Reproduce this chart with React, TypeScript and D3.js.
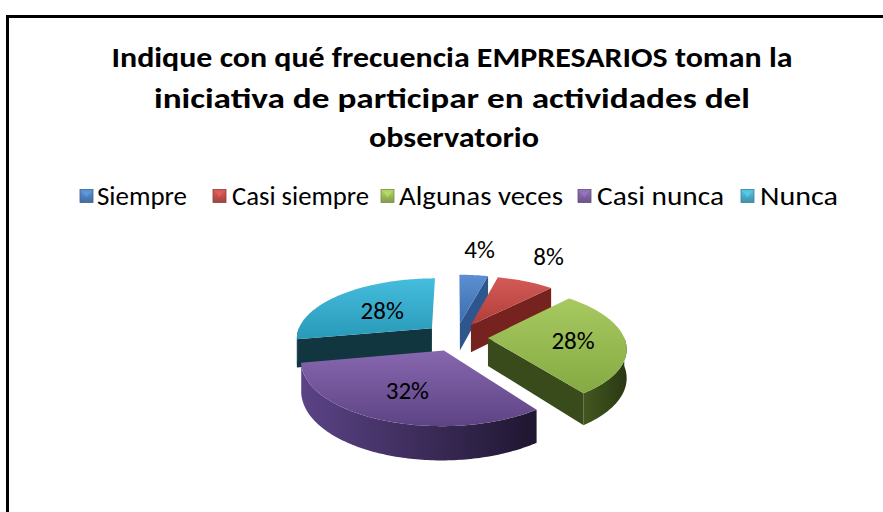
import React from "react";
import * as d3 from "d3";

const categories = ["Siempre", "Casi siempre", "Algunas veces", "Casi nunca", "Nunca"];
const values = [4, 8, 28, 32, 28];
const valueLabels = ["4%", "8%", "28%", "32%", "28%"];
const titleLines = [
  "Indique con qué frecuencia EMPRESARIOS toman la",
  "iniciativa de participar en actividades del",
  "observatorio",
];

const topLight = ["#5B8FD1", "#D45B57", "#A6C960", "#8767AF", "#45BDDD"];
const topDark = ["#3D6EAE", "#B03D3A", "#86AA43", "#5D4384", "#2999B8"];
const wallLight = ["#34598F", "#852B29", "#43581F", "#5B4386", "#1B5162"];
const wallDark = ["#223B60", "#5A1A19", "#2B3813", "#1F1630", "#0E3340"];
const cutColor = ["#2D568F", "#76221F", "#394B1A", "#3A2B57", "#11363F"];
const legendColor = ["#4F81BD", "#C0504D", "#9BBB59", "#8064A2", "#4BACC6"];
const labelRadius = [1.5, 1.5, 0.62, 0.62, 0.52];

const W = 883;
const H = 512;
const FONT = "Carlito, Calibri, Lato, 'Open Sans', sans-serif";

// 3D projection parameters
const cx = 456;
const cy = 337;
const SX = 136; // horizontal radius at depth 0
const SZ = 59.8; // vertical scale for depth
const SH = 28; // thickness
const K = 0.15; // perspective strength
const EXPLODE = 0.235;

function project(X: number, Y: number, Z: number): [number, number] {
  const f = 1 / (1 + K * Z);
  return [cx + SX * X * f, cy + (-SZ * Z + SH * Y) * f];
}

export default function App() {
  const pie = d3
    .pie<number>()
    .sort(null)
    .value((d) => d)
    .startAngle(0)
    .endAngle(Math.PI * 2);
  const arcs = pie(values);

  const slices = arcs.map((a, i) => {
    const m = (a.startAngle + a.endAngle) / 2;
    const ox = EXPLODE * Math.sin(m);
    const oz = EXPLODE * Math.cos(m);
    const pt = (t: number, r: number, y: number) =>
      project(ox + r * Math.sin(t), y, oz + r * Math.cos(t));
    const sampleArc = (t0: number, t1: number, y: number) => {
      const n = Math.max(2, Math.ceil(((t1 - t0) * 180) / Math.PI));
      const out: [number, number][] = [];
      for (let j = 0; j <= n; j++) out.push(pt(t0 + ((t1 - t0) * j) / n, 1, y));
      return out;
    };
    const line = d3.line();
    const topPts = [pt(0, 0, 0), ...sampleArc(a.startAngle, a.endAngle, 0)];
    const top = line(topPts) + "Z";
    let wall: string | null = null;
    const w0 = Math.max(a.startAngle, Math.PI / 2);
    const w1 = Math.min(a.endAngle, (Math.PI * 3) / 2);
    if (w1 > w0) {
      const up = sampleArc(w0, w1, 0);
      const down = sampleArc(w0, w1, 1).reverse();
      wall = line([...up, ...down]) + "Z";
    }
    const cuts: string[] = [];
    const cutFace = (t: number) =>
      line([pt(t, 0, 0), pt(t, 1, 0), pt(t, 1, 1), pt(t, 0, 1)]) + "Z";
    if (Math.sin(a.startAngle) < -1e-6) cuts.push(cutFace(a.startAngle));
    if (Math.sin(a.endAngle) > 1e-6) cuts.push(cutFace(a.endAngle));
    const small = labelRadius[i] > 1;
    const lp = pt(m, labelRadius[i], 0);
    const label: [number, number] = small ? [lp[0], lp[1] - 6] : lp;
    return { i, oz, top, wall, cuts, label };
  });

  const order = [...slices].sort((p, q) => q.oz - p.oz);

  const legendItems = [
    { mx: 80, tx: 97, w: 90 },
    { mx: 213, tx: 232, w: 137 },
    { mx: 381, tx: 399, w: 164 },
    { mx: 578, tx: 597, w: 127 },
    { mx: 741, tx: 760, w: 78 },
  ];

  return (
    <svg
      width={W}
      height={H}
      style={{ position: "absolute", left: 0, top: 0, background: "#fff" }}
    >
      <defs>
        {categories.map((_, i) => (
          <linearGradient key={"t" + i} id={"top" + i} x1="0" y1="0" x2="0" y2="1">
            <stop offset="0" stopColor={topLight[i]} />
            <stop offset="1" stopColor={topDark[i]} />
          </linearGradient>
        ))}
        {categories.map((_, i) => (
          <linearGradient key={"w" + i} id={"wall" + i} x1="0" y1="0" x2="1" y2="0">
            <stop offset="0" stopColor={wallLight[i]} />
            <stop offset="1" stopColor={wallDark[i]} />
          </linearGradient>
        ))}
        {categories.map((_, i) => (
          <linearGradient key={"l" + i} id={"leg" + i} x1="0" y1="0" x2="0" y2="1">
            <stop offset="0" stopColor={d3.color(legendColor[i])!.brighter(0.4).formatHex()} />
            <stop offset="1" stopColor={d3.color(legendColor[i])!.darker(0.5).formatHex()} />
          </linearGradient>
        ))}
      </defs>
      <rect x={7.5} y={16.5} width={W + 20} height={H + 20} fill="#fff" stroke="#000" strokeWidth={3} />

      <g fontFamily={FONT} fontWeight="bold" fontSize={29} textAnchor="middle" fill="#000">
        <text x={452} y={67} textLength={681} lengthAdjust="spacingAndGlyphs">{titleLines[0]}</text>
        <text x={452} y={108} textLength={596} lengthAdjust="spacingAndGlyphs">{titleLines[1]}</text>
        <text x={454} y={147} textLength={170} lengthAdjust="spacingAndGlyphs">{titleLines[2]}</text>
      </g>

      <g fontFamily={FONT} fontSize={26} fill="#000">
        {categories.map((c, i) => (
          <g key={c}>
            <rect
              x={legendItems[i].mx}
              y={189.5}
              width={13}
              height={13}
              fill={"url(#leg" + i + ")"}
              stroke={d3.color(legendColor[i])!.darker(0.8).formatHex()}
              strokeWidth={0.8}
            />
            <path
              d={`M${legendItems[i].mx + 2},${191.5} L${legendItems[i].mx + 11},${191.5} L${legendItems[i].mx + 6.5},${197.5} Z`}
              fill={d3.color(legendColor[i])!.brighter(0.6).formatHex()}
              opacity={0.6}
            />
            <text
              x={legendItems[i].tx}
              y={205}
              textLength={legendItems[i].w}
              lengthAdjust="spacingAndGlyphs"
            >
              {c}
            </text>
          </g>
        ))}
      </g>

      <g>
        {order.map((s) => (
          <g key={s.i}>
            {s.cuts.map((d, j) => (
              <path key={j} d={d} fill={cutColor[s.i]} />
            ))}
            {s.wall && <path d={s.wall} fill={"url(#wall" + s.i + ")"} />}
            <path d={s.top} fill={"url(#top" + s.i + ")"} />
          </g>
        ))}
      </g>

      <g fontFamily={FONT} fontSize={25} textAnchor="middle" fill="#000">
        {slices.map((s) => (
          <text key={s.i} x={s.label[0]} y={s.label[1]} dominantBaseline="central">
            {valueLabels[s.i]}
          </text>
        ))}
      </g>
    </svg>
  );
}
